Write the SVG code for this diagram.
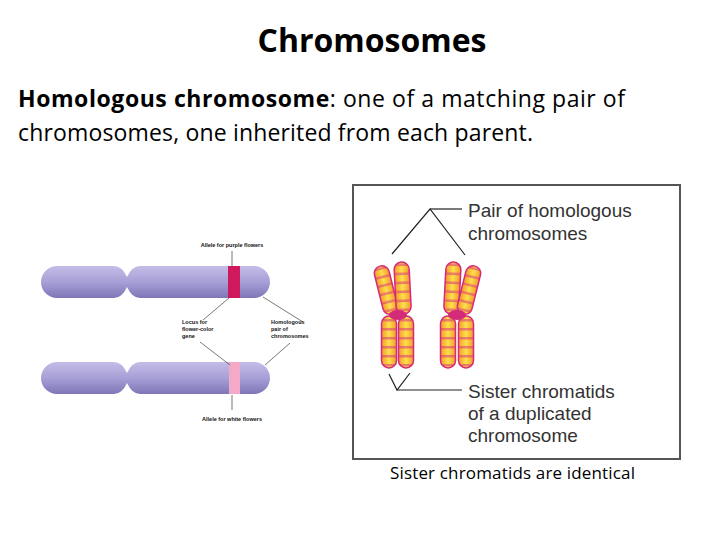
<svg xmlns="http://www.w3.org/2000/svg" width="720" height="540" viewBox="0 0 720 540">
<style>
.t{font-family:"Open Sans","Liberation Sans",sans-serif;fill:#000}
.s{font-family:"Liberation Sans",Arial,sans-serif;font-weight:bold;font-size:5.5px;fill:#111}
.r{font-family:"Liberation Sans",Arial,sans-serif;font-size:19px;fill:#333}
.ln{stroke:#555;stroke-width:0.8;fill:none}
.lk{stroke:#222;stroke-width:1.2;fill:none}
</style>
<defs>
<linearGradient id="pu" x1="0" y1="0" x2="0" y2="1">
<stop offset="0" stop-color="#c4bde6"/><stop offset="0.5" stop-color="#a79fd6"/><stop offset="1" stop-color="#7f76b8"/>
</linearGradient>
<linearGradient id="or" x1="0" y1="0" x2="1" y2="0">
<stop offset="0" stop-color="#f59a2a"/><stop offset="0.5" stop-color="#fde04c"/><stop offset="1" stop-color="#f59a2a"/>
</linearGradient>
<pattern id="st" patternUnits="userSpaceOnUse" width="20" height="9">
<rect y="3" width="20" height="2.5" fill="#e0407a" opacity="0.6"/>
</pattern>
<g id="cm">
<rect x="-7.5" y="0" width="15" height="52" rx="7.5" fill="url(#or)"/>
<rect x="-7.5" y="0" width="15" height="52" rx="7.5" fill="url(#st)"/>
<rect x="-7.5" y="0" width="15" height="52" rx="7.5" fill="none" stroke="#d42a7a" stroke-width="1.5"/>
</g>
</defs>
<rect width="720" height="540" fill="#fff"/>
<text class="t" x="372" y="52" font-size="32" font-weight="bold" text-anchor="middle">Chromosomes</text>
<text class="t" x="18" y="107" font-size="23" textLength="607"><tspan font-weight="bold">Homologous chromosome</tspan>: one of a matching pair of</text>
<text class="t" x="18" y="141" font-size="23" textLength="515">chromosomes, one inherited from each parent.</text>

<g id="left-figure">
<g id="chromo-top">
<path d="M57,266 H114 Q122,266 127,277 Q132,266 140,266 H254 A16,16 0 0 1 254,298 H140 Q132,298 127,287 Q122,298 114,298 H57 A16,16 0 0 1 57,266 Z" fill="url(#pu)"/>
<rect x="228" y="266" width="12" height="32" fill="#d0185c"/>
</g>
<g id="chromo-bottom">
<path d="M57,362 H114 Q122,362 127,373 Q132,362 140,362 H254 A16,16 0 0 1 254,394 H140 Q132,394 127,383 Q122,394 114,394 H57 A16,16 0 0 1 57,362 Z" fill="url(#pu)"/>
<rect x="229" y="362" width="11" height="32" fill="#f4a9c8"/>
</g>
<g id="left-lines">
<line class="ln" x1="232" y1="251" x2="232" y2="266"/>
<line class="ln" x1="229" y1="298" x2="203" y2="320"/>
<line class="ln" x1="263" y1="297" x2="303" y2="322"/>
<line class="ln" x1="200" y1="342" x2="230" y2="365"/>
<line class="ln" x1="290" y1="343" x2="265" y2="365"/>
<line class="ln" x1="232" y1="395" x2="232" y2="410"/>
</g>
<text class="s" x="232" y="247" text-anchor="middle">Allele for purple flowers</text>
<text class="s" x="182" y="324">Locus for</text>
<text class="s" x="182" y="331">flower-color</text>
<text class="s" x="182" y="338">gene</text>
<text class="s" x="271" y="324">Homologous</text>
<text class="s" x="271" y="331">pair of</text>
<text class="s" x="271" y="338">chromosomes</text>
<text class="s" x="232" y="421" text-anchor="middle">Allele for white flowers</text>
</g>

<g id="right-figure">
<rect x="353" y="185" width="327" height="274" fill="#fff" stroke="#555" stroke-width="2"/>
<g id="chromosome-a">
<use href="#cm" transform="translate(392,314) rotate(166) scale(1,0.95)"/>
<use href="#cm" transform="translate(404,314) rotate(177)"/>
<use href="#cm" transform="translate(389,316)"/>
<use href="#cm" transform="translate(406,316)"/>
<ellipse cx="398" cy="315" rx="9" ry="5" fill="#d42a7a"/>
</g>
<g id="chromosome-b">
<use href="#cm" transform="translate(451,314) rotate(183)"/>
<use href="#cm" transform="translate(463,314) rotate(194) scale(1,0.95)"/>
<use href="#cm" transform="translate(448,316)"/>
<use href="#cm" transform="translate(466,316)"/>
<ellipse cx="457" cy="315" rx="9" ry="5" fill="#d42a7a"/>
</g>
<g id="right-lines">
<polyline class="lk" points="392,254 430,209 465,255"/>
<line class="lk" x1="430" y1="209" x2="462" y2="209"/>
<polyline class="lk" points="389,374 397,390 410,373"/>
<line class="lk" x1="397" y1="390" x2="462" y2="390"/>
</g>
<text class="r" x="468" y="217">Pair of homologous</text>
<text class="r" x="468" y="240">chromosomes</text>
<text class="r" x="468" y="398">Sister chromatids</text>
<text class="r" x="468" y="420">of a duplicated</text>
<text class="r" x="468" y="442">chromosome</text>
</g>
<text class="t" x="390" y="479" font-size="17" textLength="245">Sister chromatids are identical</text>
</svg>
